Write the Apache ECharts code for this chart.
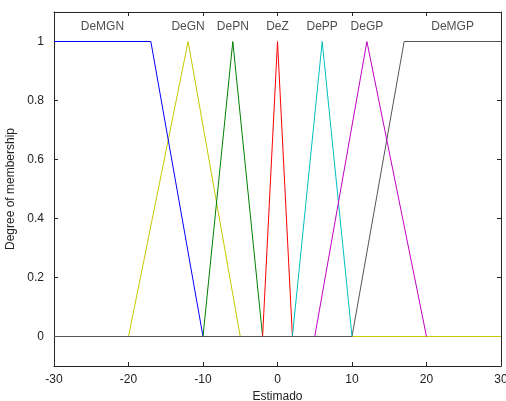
<!DOCTYPE html>
<html>
<head>
<meta charset="utf-8">
<script src="https://cdn.jsdelivr.net/npm/echarts@6/dist/echarts.min.js"></script>
<style>
html,body{margin:0;padding:0;background:#fff;}
#chart{width:506px;height:401px;}
</style>
</head>
<body>
<div id="chart"></div>
<script>
// membership functions, as [x, degree] breakpoints
const deMGN = [[-30, 1], [-17, 1], [-10, 0]];
const deGN = [[-20, 0], [-12, 1], [-5, 0], [30, 0]];
const dePN = [[-10, 0], [-6, 1], [-2, 0]];
const deZ = [[-2, 0], [0, 1], [2, 0]];
const dePP = [[2, 0], [6, 1], [10, 0]];
const deGP = [[5, 0], [12, 1], [20, 0]];
const deMGP = [[-30, 0], [10, 0], [17, 1], [30, 1]];

const mfNames = ['DeMGN', 'DeGN', 'DePN', 'DeZ', 'DePP', 'DeGP', 'DeMGP'];
const labelX = [-23.5, -12, -6, 0, 6, 12, 23.5];
const labelY = 1.05;
const yTicks = [0, 0.2, 0.4, 0.6, 0.8, 1];

const font = 'Liberation Sans, Arial, sans-serif';
const txt = '#222';

function mf(name, data, color, z) {
    return {
        name: name, type: 'line', data: data, z: z,
        symbol: 'none', lineStyle: {color: color, width: 1}, animation: false
    };
}

const option = {
    animation: false,
    grid: {left: 54, right: 5, top: 12, bottom: 35, outerBoundsMode: 'none', containLabel: false},
    xAxis: [
        {
            type: 'value', min: -30, max: 30, interval: 10, position: 'bottom',
            name: 'Estimado', nameLocation: 'middle', nameGap: 22,
            nameTextStyle: {color: txt, fontFamily: font, fontSize: 12},
            axisLine: {onZero: false, lineStyle: {color: '#262626'}},
            axisTick: {inside: true, length: 4, lineStyle: {color: '#262626'}},
            axisLabel: {color: txt, fontFamily: font, fontSize: 12, margin: 8},
            splitLine: {show: false}
        },
        {
            type: 'value', min: -30, max: 30, interval: 10, position: 'top',
            axisLine: {onZero: false, lineStyle: {color: '#262626'}},
            axisTick: {inside: true, length: 4, lineStyle: {color: '#262626'}},
            axisLabel: {show: false}, splitLine: {show: false}
        }
    ],
    yAxis: [
        {
            type: 'value', min: -0.1, max: 1.1, position: 'left',
            name: 'Degree of membership', nameLocation: 'middle', nameGap: 31,
            nameTextStyle: {color: txt, fontFamily: font, fontSize: 12},
            axisLine: {show: true, onZero: false, lineStyle: {color: '#262626'}},
            axisTick: {show: true, inside: true, length: 4, customValues: yTicks, lineStyle: {color: '#262626'}},
            axisLabel: {color: txt, fontFamily: font, fontSize: 12, margin: 10, customValues: yTicks},
            splitLine: {show: false}
        },
        {
            type: 'value', min: -0.1, max: 1.1, position: 'right',
            axisLine: {show: true, onZero: false, lineStyle: {color: '#262626'}},
            axisTick: {show: true, inside: true, length: 4, customValues: yTicks, lineStyle: {color: '#262626'}},
            axisLabel: {show: false, customValues: yTicks}, splitLine: {show: false}
        }
    ],
    series: [
        mf('DeGN', deGN, '#c8c800', 2),
        mf('DeMGP', deMGP, '#555555', 3),
        mf('DeMGN', deMGN, '#0000ff', 4),
        mf('DePN', dePN, '#008000', 4),
        mf('DeZ', deZ, '#ff0000', 4),
        mf('DePP', dePP, '#00bfbf', 4),
        mf('DeGP', deGP, '#bf00bf', 4),
        {
            type: 'scatter', symbolSize: 0, z: 5,
            data: labelX.map((x, i) => ({value: [x, labelY], name: mfNames[i]})),
            label: {
                show: true, position: 'inside', formatter: p => p.name,
                color: txt, fontFamily: font, fontSize: 12
            }
        }
    ]
};

const myChart = echarts.init(document.getElementById('chart'));
myChart.setOption(option);
</script>
</body>
</html>
